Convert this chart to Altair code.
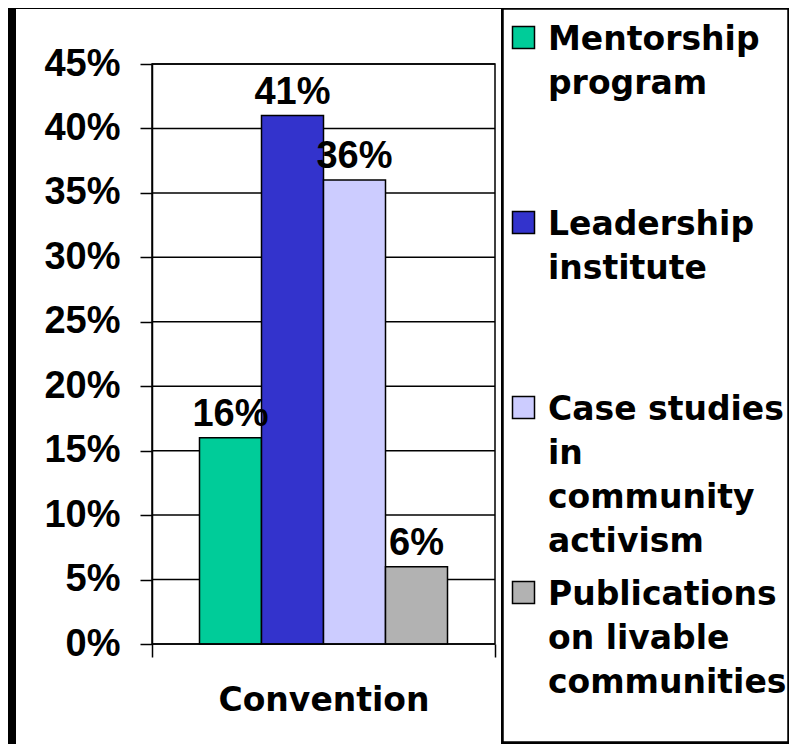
import altair as alt
import pandas as pd

# ---- data ----
categories = ["Convention"]
series = [
    "Mentorship program",
    "Leadership institute",
    "Case studies in community activism",
    "Publications on livable communities",
]
legend_labels = [
    "Mentorship\nprogram",
    "Leadership\ninstitute",
    "Case studies\nin\ncommunity\nactivism",
    "Publications\non livable\ncommunities",
]
values = [0.16, 0.41, 0.36, 0.06]
colors = ["#00CC99", "#3333CC", "#CCCCFF", "#B2B2B2"]
y_ticks = [0, 0.05, 0.10, 0.15, 0.20, 0.25, 0.30, 0.35, 0.40, 0.45]

NUM_FONT = "Liberation Sans"
TXT_FONT = "DejaVu Sans"

PW, PH = 343, 580  # plot area
LW = 285           # legend box width

df = pd.DataFrame({
    "category": categories * len(series),
    "series": series,
    "value": values,
})
gdf = pd.DataFrame({"tick": y_ticks})
ldf = pd.DataFrame({"series": series, "label": legend_labels})

color_scale = alt.Scale(domain=series, range=colors)

x_enc = alt.X(
    "category:N",
    title=categories[0],
    scale=alt.Scale(paddingInner=0, paddingOuter=0),
    axis=alt.Axis(
        labels=False, ticks=True, tickBand="extent", tickSize=13,
        tickColor="black", tickWidth=1.5, domain=False, grid=False,
        titleFont=TXT_FONT, titleFontSize=33, titleFontWeight="bold",
        titleColor="black", titlePadding=27, zindex=2,
    ),
)
xoff_enc = alt.XOffset(
    "series:N", sort=series,
    scale=alt.Scale(paddingInner=0, paddingOuter=0.766),
)
y_scale = alt.Scale(domain=[0, 0.45], nice=False)
y_axis = alt.Axis(
    values=y_ticks, format=".0%", title=None,
    labelFont=NUM_FONT, labelFontSize=38, labelFontWeight="bold",
    labelColor="black", labelPadding=20, tickSize=12,
    tickColor="black", tickWidth=1.5, domainColor="black",
    domainWidth=1.5, grid=False, zindex=2,
)
y_enc = alt.Y("value:Q", scale=y_scale, axis=y_axis)

# white panel behind the chart area (decoration)
bg = alt.Chart(alt.Data(values=[{}])).mark_rect(color="white").encode(
    x=alt.value(-136), x2=alt.value(PW + 6), y=alt.value(-55), y2=alt.value(PH + 100)
)

grid = alt.Chart(gdf).mark_rule(color="black", strokeWidth=1.5).encode(
    y=alt.Y("tick:Q", scale=y_scale, axis=y_axis)
)

bars = alt.Chart(df).mark_bar(stroke="black", strokeWidth=1.5).encode(
    x=x_enc,
    xOffset=xoff_enc,
    y=y_enc,
    color=alt.Color("series:N", scale=color_scale, legend=None),
)

labels = alt.Chart(df).mark_text(
    font=NUM_FONT, fontSize=38, fontWeight="bold", baseline="alphabetic",
    dy=-12, color="black",
).encode(
    x=x_enc,
    xOffset=xoff_enc,
    y=y_enc,
    text=alt.Text("value:Q", format=".0%"),
)

frame = alt.Chart(alt.Data(values=[{}])).mark_rect(
    fillOpacity=0, stroke="black", strokeWidth=1.5
).encode(
    x=alt.value(0), x2=alt.value(PW), y=alt.value(0), y2=alt.value(PH)
)

left = alt.layer(bg, grid, bars, labels, frame).properties(
    width=PW, height=PH,
)

leg_y = alt.Y(
    "series:N", sort=series, axis=None,
    scale=alt.Scale(range=[-119, 621], paddingInner=0, paddingOuter=0),
)

box = alt.Chart(alt.Data(values=[{}])).mark_rect(
    fill="white", stroke="black", strokeWidth=1.5
).encode(
    x=alt.value(0), x2=alt.value(LW), y=alt.value(-55), y2=alt.value(PH + 98)
)

squares = alt.Chart(ldf).mark_square(
    size=484, stroke="black", strokeWidth=1.5, opacity=1, filled=True
).encode(
    y=leg_y,
    x=alt.value(20.5),
    color=alt.Color("series:N", scale=color_scale, legend=None),
)

texts = alt.Chart(ldf).transform_calculate(
    lines="split(datum.label, '\\n')"
).mark_text(
    align="left", baseline="alphabetic", dy=12, font=TXT_FONT,
    fontSize=33, fontWeight="bold", lineHeight=44, color="black",
).encode(
    y=leg_y,
    x=alt.value(45),
    text="lines:N",
)

legend_panel = alt.layer(box, squares, texts).properties(
    width=LW, height=PH,
)

chart = alt.hconcat(left, legend_panel, spacing=1).properties(
    background="black",
    padding={"left": 8, "top": 0, "right": 0, "bottom": 0},
).configure_view(stroke=None, fill=None)

chart.save("out.html", embed_options={"renderer": "svg", "actions": False})
